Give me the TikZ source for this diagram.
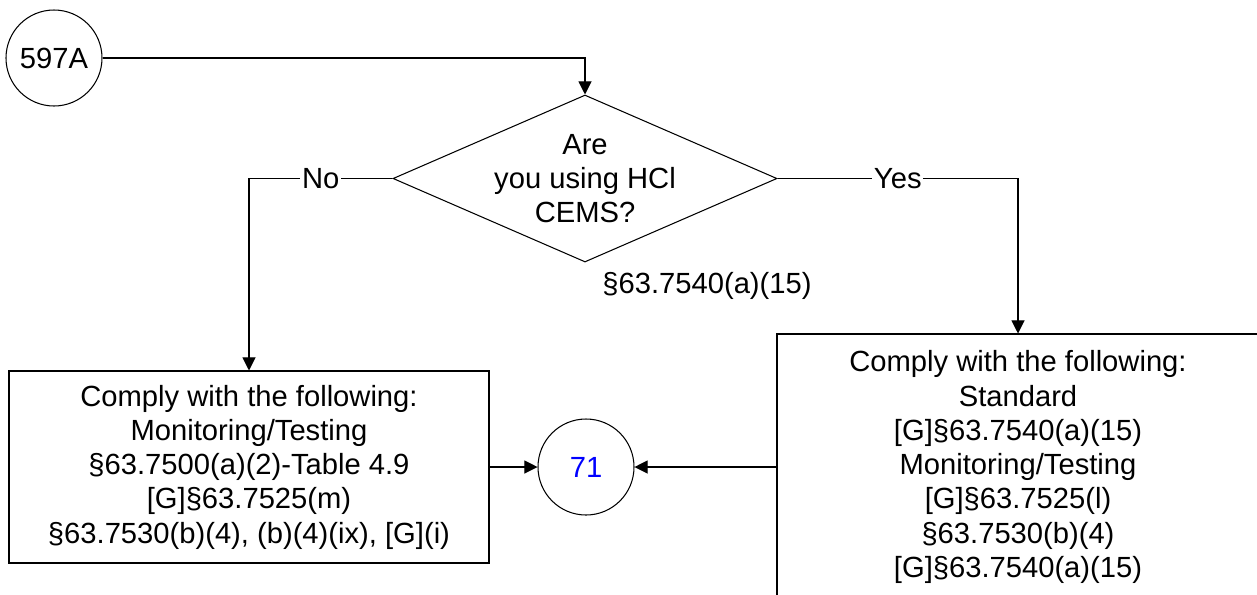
\documentclass[tikz,border=0pt]{standalone}
\usepackage{fontspec}
\setmainfont{Liberation Sans}
\usetikzlibrary{arrows.meta,shapes.geometric}

\begin{document}
\begin{tikzpicture}[
  font=\fontsize{16.6}{19.5}\selectfont, >={Triangle[length=7.5pt, width=7.5pt]},
  conn/.style={circle, draw, line width=0.6pt, minimum size=1.92cm, inner sep=0pt},
  dec/.style={diamond, draw, line width=0.6pt, aspect=2.3, minimum width=7.68cm, minimum height=3.34cm, inner sep=-6pt, align=center},
  box/.style={draw, line width=0.6pt, align=center, inner sep=0pt},
  arr/.style={->, line width=0.6pt},
  lbl/.style={fill=white, inner sep=1pt},
]
\useasboundingbox (0,0) rectangle (25.14,-11.88);
\clip (0,0) rectangle (25.14,-11.88);
% top
\node[conn] (start) at (1.08,-1.16) {597A};
\node[dec]  (hcl)   at (11.70,-3.57) {Are\\you using HCl\\CEMS?};
\node       (hclref) at (14.14,-5.72) {\S63.7540(a)(15)};
% bottom row
\node[box, minimum width=9.60cm, minimum height=3.84cm] (nobox) at (4.98,-9.34)
  {Comply with the following:\\Monitoring/Testing\\\S63.7500(a)(2)-Table 4.9\\{}[G]\S63.7525(m)\\\S63.7530(b)(4), (b)(4)(ix), [G](i)};
\node[conn, text=blue] (next) at (11.72,-9.34) {71};
\node[box, minimum width=9.64cm, minimum height=5.32cm] (yesbox) at (20.36,-9.34)
  {Comply with the following:\\Standard\\{}[G]\S63.7540(a)(15)\\Monitoring/Testing\\{}[G]\S63.7525(l)\\\S63.7530(b)(4)\\{}[G]\S63.7540(a)(15)};
% arrows
\draw[arr] (start.east) -- (start.east -| hcl.north) -- (hcl.north);
\draw[arr] (hcl.west) -- node[lbl]{No} (hcl.west -| nobox.north) -- (nobox.north);
\draw[arr] (hcl.east) -- node[lbl]{Yes} (hcl.east -| yesbox.north) -- (yesbox.north);
\draw[arr] (nobox.east) -- (next.west);
\draw[arr] (yesbox.west) -- (next.east);
\end{tikzpicture}
\end{document}
